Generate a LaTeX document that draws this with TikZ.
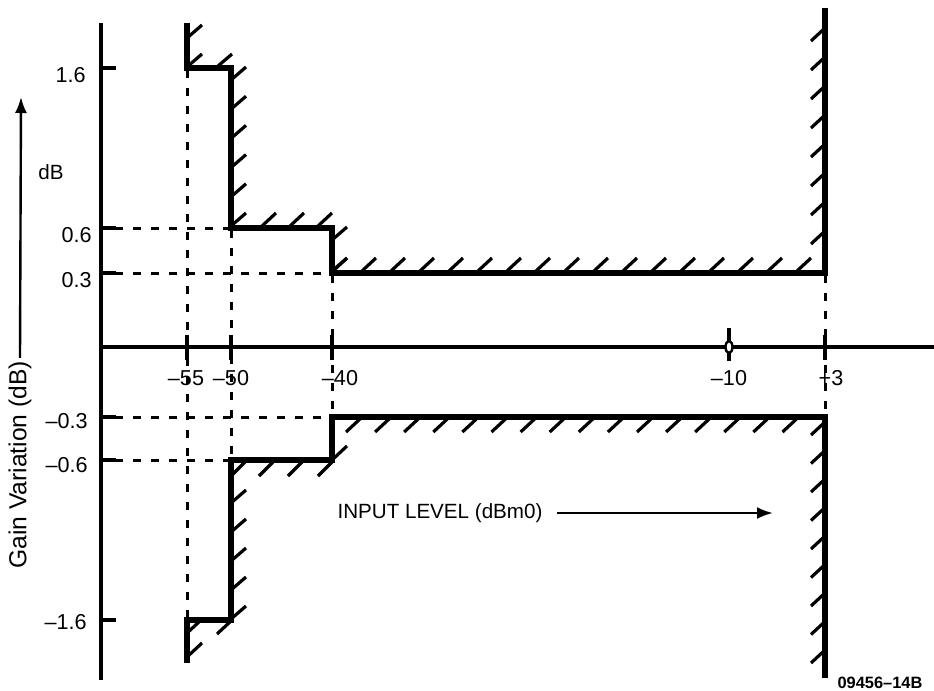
\documentclass[tikz,border=0pt]{standalone}
\usepackage{fontspec}
\setmainfont{Liberation Sans}
\usetikzlibrary{arrows.meta,shapes.geometric}
\tikzset{
  bound/.style={line width=2.6pt, line join=miter},
  axisline/.style={line width=2.4pt},
  hatch/.style={line width=1.6pt},
  dashline/.style={line width=1.5pt, dash pattern=on 4pt off 5pt},
  tickline/.style={line width=1.8pt},
  ticklab/.style={inner sep=0pt, font=\fontsize{10.8}{12}\selectfont},
  midlab/.style={inner sep=0pt, font=\fontsize{10.3}{12}\selectfont},
  biglab/.style={inner sep=0pt, font=\fontsize{12.3}{14}\selectfont},
  arr/.style={line width=1.2pt, -{Latex[length=8pt,width=6pt]}}
}
\begin{document}
\begin{tikzpicture}[x=0.5pt,y=-0.5pt]
\useasboundingbox (0,0) rectangle (934,691);
% dashed guide lines
\draw[dashline] (115,228) -- (231,228);
\draw[dashline] (115,273) -- (332,273);
\draw[dashline] (115,417) -- (332,417);
\draw[dashline] (115,460) -- (231,460);
\draw[dashline] (187,70) -- (187,618);
\draw[dashline] (231,230) -- (231,458);
\draw[dashline] (332,275) -- (332,415);
\draw[dashline] (825,275) -- (825,415);
% axes
\draw[axisline] (101,23) -- (101,680);
\draw[axisline] (101,347) -- (934,347);
% y ticks
\foreach \yy in {68,228,273,417,460,620} \draw[tickline] (101,\yy) -- (116,\yy);
% x ticks
\foreach \xx in {187,231,332,825} \draw[tickline] (\xx,335) -- (\xx,360);
\draw[tickline] (729,328) -- (729,361);
\node[draw, fill=white, line width=1.2pt, ellipse, minimum width=3.5pt, minimum height=6pt, inner sep=0pt] (m10) at (729,347) {};
% boundaries
\draw[bound] (187,23) -- (187,68) -- (231,68) -- (231,228) -- (332,228) -- (332,273) -- (825,273) -- (825,8);
\draw[bound] (825,678) -- (825,417) -- (332,417) -- (332,460) -- (231,460) -- (231,620) -- (187,620) -- (187,663);
% hatches upper
\draw[hatch] (187,38) -- ++(15,-13);
\foreach \xx in {188,218} \draw[hatch] (\xx,66) -- ++(14,-12);
\foreach \k in {0,...,5} \draw[hatch] (231,{80+29.2*\k}) -- ++(15,-13);
\foreach \xx in {262,290,318} \draw[hatch] (\xx,226) -- ++(14,-13);
\foreach \yy in {240,271} \draw[hatch] (332,\yy) -- ++(15,-13);
\foreach \k in {0,...,16} \draw[hatch] ({333+29*\k},271) -- ++(14,-13);
\foreach \k in {0,...,7} \draw[hatch] (811,{41+29*\k}) -- ++(14,-13);
% hatches lower
\foreach \k in {0,...,15} \draw[hatch] ({346+29.1*\k},432) -- ++(14,-13);
\foreach \k in {0,...,8} \draw[hatch] (811,{435+28.5*\k}) -- ++(14,-13);
\draw[hatch] (332,460) -- ++(15,-14);
\foreach \xx in {231,259,288,318} \draw[hatch] (\xx,476) -- ++(14,-14);
\foreach \k in {0,...,4} \draw[hatch] (231,{503+29*\k}) -- ++(15,-13);
\foreach \xx in {186,217} \draw[hatch] (\xx,634) -- ++(14,-13);
\draw[hatch] (187,657) -- ++(15,-14);
% y labels
\node[ticklab, anchor=east] (l16) at (86,75) {1.6};
\node[ticklab, anchor=east] (l06) at (92,235) {0.6};
\node[ticklab, anchor=east] (l03) at (92,280) {0.3};
\node[ticklab, anchor=east] (lm03) at (88,421) {–0.3};
\node[ticklab, anchor=east] (lm06) at (88,465) {–0.6};
\node[ticklab, anchor=east] (lm16) at (87,622) {–1.6};
% x labels
\node[ticklab] (xm55) at (186,378) {–55};
\node[ticklab] (xm50) at (231,378) {–50};
\node[ticklab] (xm40) at (340,378) {–40};
\node[ticklab] (xm10) at (729,378) {–10};
\node[ticklab] (xp3) at (831,378) {+3};
% axis titles
\node[midlab] (db) at (51,172) {dB};
\node[biglab, rotate=90] (gain) at (20,465) {Gain Variation (dB)};
\coordinate (gtop) at (21,97);
\draw[arr] (gain.east) ++(0,-3) -- (gtop);
\node[midlab] (input) at (440,513) {INPUT LEVEL (dBm0)};
\coordinate (itip) at (773,513);
\draw[arr] (input.east) ++(14,0) -- (itip);
\node[inner sep=0pt, font=\fontsize{8.2}{10}\selectfont\bfseries] (code) at (880,683) {09456–14B};
\end{tikzpicture}
\end{document}
